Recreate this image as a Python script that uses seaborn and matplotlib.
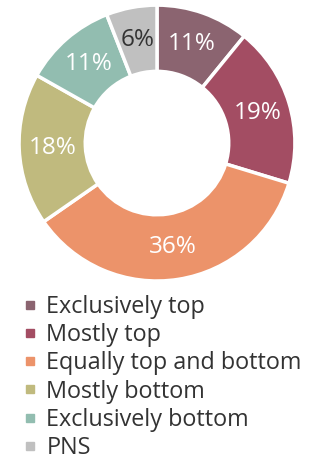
import matplotlib
matplotlib.use('Agg')
import matplotlib.pyplot as plt
from matplotlib.lines import Line2D
import numpy as np
import seaborn as sns

categories = ['Exclusively top', 'Mostly top', 'Equally top and bottom',
              'Mostly bottom', 'Exclusively bottom', 'PNS']
shares = [11, 19, 36, 18, 11, 6]
colors = ['#8B6470', '#A34D63', '#EC936A', '#C0BA7E', '#92BDB0', '#C0C0C0']
label_colors = ['white', 'white', 'white', 'white', 'white', '#333333']

sns.set_theme(style='white')
plt.rcParams['font.family'] = ['Open Sans', 'DejaVu Sans']

fig = plt.figure(figsize=(3.14, 4.66), dpi=100)
ax = fig.add_axes([0.0605, 0.397, 0.879, 0.592])

wedges, texts = ax.pie(shares, colors=sns.color_palette(colors), startangle=90, counterclock=False,
                       wedgeprops={'width': 0.48, 'edgecolor': 'white', 'linewidth': 2.5})
ax.set_aspect('equal')
ax.set_xlim(-1, 1)
ax.set_ylim(-1, 1)

for w, v, c in zip(wedges, shares, label_colors):
    ang = np.deg2rad((w.theta1 + w.theta2) / 2)
    ax.text(0.76 * np.cos(ang), 0.76 * np.sin(ang), str(v) + '%', ha='center', va='center',
            fontsize=17.5, color=c)

handles = [Line2D([0], [0], marker='s', linestyle='', markersize=6, color=c) for c in colors]
fig.legend(handles, categories, loc='upper left', bbox_to_anchor=(0.04, 0.392), frameon=False,
           fontsize=16.8, handlelength=0.5, handletextpad=0.45, labelspacing=0.18,
           borderpad=0, labelcolor='#333333')

plt.savefig('out.png', dpi=100)
